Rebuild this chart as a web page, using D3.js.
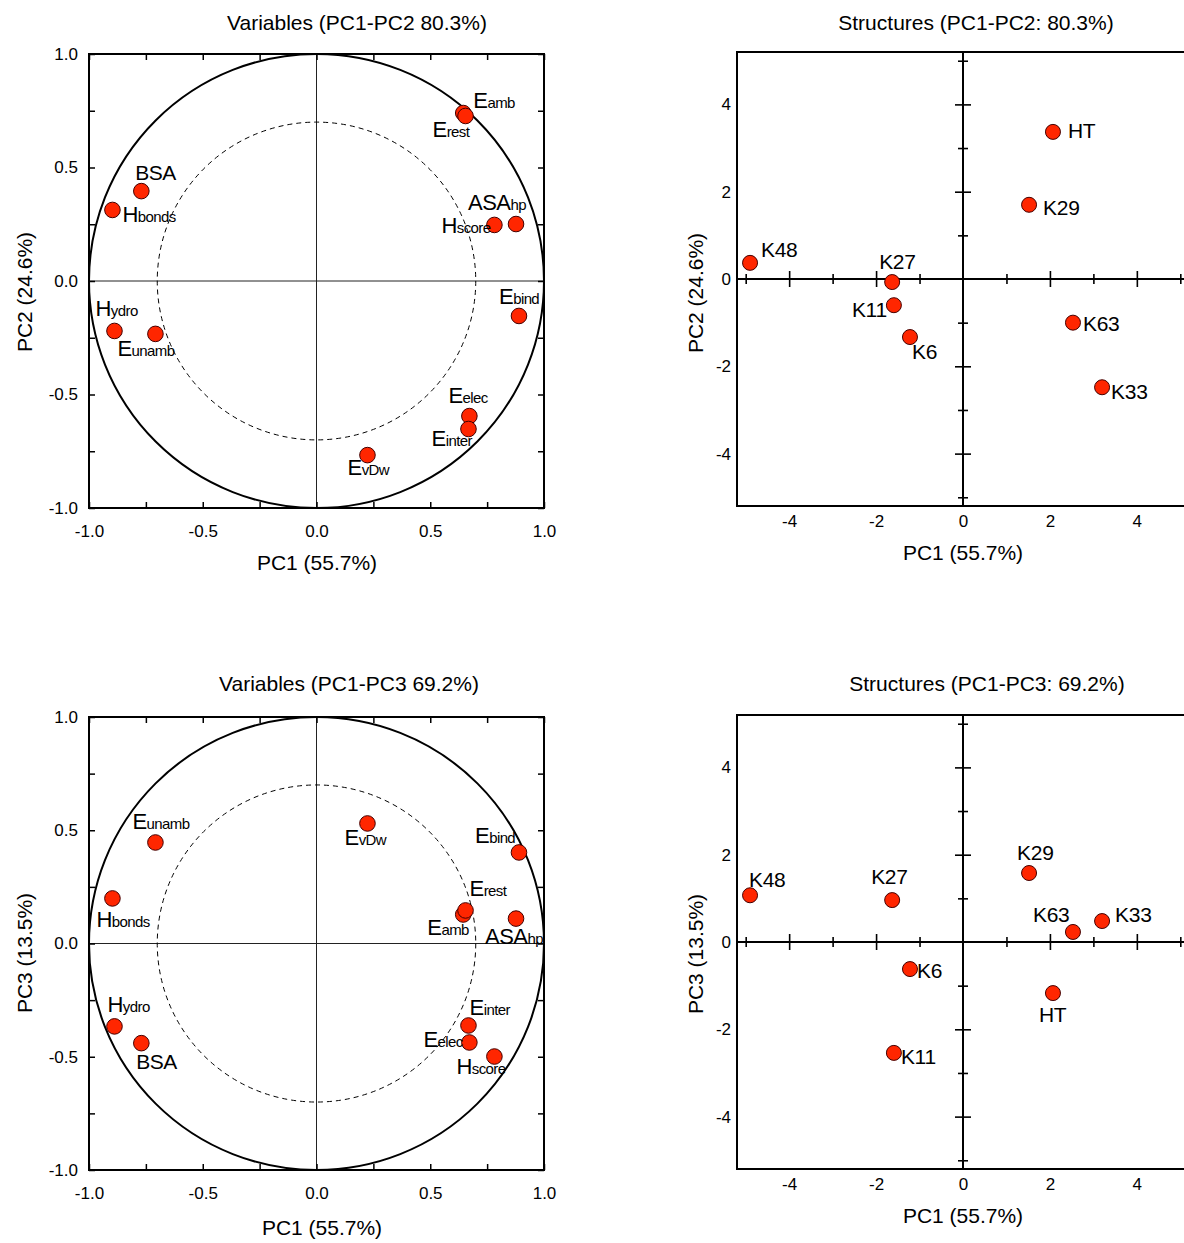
<!DOCTYPE html>
<html lang="en">
<head>
<meta charset="utf-8">
<title>PCA: variables and structures</title>
<script src="https://cdnjs.cloudflare.com/ajax/libs/d3/7.8.5/d3.min.js"></script>
<style>
  body { margin: 0; background: #fff; }
  svg { display: block; font-family: "Liberation Sans", Arial, sans-serif; }
</style>
</head>
<body>
<div id="chart"></div>
<script>
// variable loadings (correlation circle)
var varNames = ["Eamb", "Erest", "BSA", "Hbonds", "Hscore", "ASAhp", "Ebind", "Hydro", "Eunamb", "Eelec", "Einter", "EvDw"];
var varMain  = ["E", "E", "BSA", "H", "H", "ASA", "E", "H", "E", "E", "E", "E"];
var varSub   = ["amb", "rest", "", "bonds", "score", "hp", "bind", "ydro", "unamb", "elec", "inter", "vDw"];
var loadPC1  = [0.645, 0.655, -0.77, -0.897, 0.782, 0.877, 0.89, -0.888, -0.708, 0.672, 0.668, 0.224];
var loadPC2  = [0.74, 0.727, 0.396, 0.313, 0.247, 0.251, -0.154, -0.22, -0.233, -0.595, -0.652, -0.767];
var loadPC3  = [0.128, 0.146, -0.44, 0.199, -0.499, 0.11, 0.402, -0.366, 0.446, -0.437, -0.362, 0.53];

// structure scores
var structNames = ["HT", "K29", "K48", "K27", "K11", "K6", "K63", "K33"];
var scorePC1 = [2.07, 1.52, -4.9, -1.63, -1.59, -1.22, 2.53, 3.2];
var scorePC2 = [3.37, 1.70, 0.37, -0.07, -0.60, -1.33, -1.00, -2.48];
var scorePC3 = [-1.17, 1.58, 1.07, 0.96, -2.54, -0.62, 0.23, 0.48];

var circleTicks = [-1.0, -0.5, 0.0, 0.5, 1.0];
var scoreTicks = [-4, -2, 0, 2, 4];

// label offsets from the point centre (layout only)
var offVarPC2 = {Eamb:[10,-5], Erest:[-33,21], BSA:[-6,-11], Hbonds:[10,12], Hscore:[-53,8], ASAhp:[-48,-14],
  Ebind:[-20,-12], Hydro:[-19,-15], Eunamb:[-38,22], Eelec:[-21,-13], Einter:[-37,17], EvDw:[-20,20]};
var offVarPC3 = {Eamb:[-36,20], Erest:[4,-14], BSA:[-5,26], Hbonds:[-16,29], Hscore:[-38,17], ASAhp:[-31,25],
  Ebind:[-44,-9], Hydro:[-7,-14], Eunamb:[-23,-13], Eelec:[-46,5], Einter:[1,-10], EvDw:[-23,22]};
var offStrPC2 = {HT:[15,6], K29:[14,10], K48:[11,-6], K27:[-13,-13], K11:[-42,12], K6:[2,22], K63:[10,8], K33:[9,12]};
var offStrPC3 = {HT:[-14,29], K29:[-12,-13], K48:[-1,-8], K27:[-21,-16], K11:[7,11], K6:[7,9], K63:[-40,-10], K33:[13,1]};

var width = 1184, height = 1243;
var svg = d3.select("#chart").append("svg").attr("width", width).attr("height", height);

var red = "#ff2600";
var dash = function(d) { return d.toFixed(1); };

function texts(g, t) {
  g.append("text").attr("x", t.x).attr("y", t.y).attr("text-anchor", "middle")
    .attr("font-size", 21).text(t.title);
  g.append("text").attr("x", t.xx).attr("y", t.xy).attr("text-anchor", "middle")
    .attr("font-size", 21).text(t.xtitle);
  g.append("text").attr("transform", "translate(" + t.yx + "," + t.yy + ") rotate(-90)")
    .attr("text-anchor", "middle").attr("font-size", 21).text(t.ytitle);
}

function circlePanel(p) {
  var g = svg.append("g");
  var x = d3.scaleLinear().domain([-1, 1]).range([p.left, p.right]);
  var y = d3.scaleLinear().domain([-1, 1]).range([p.bottom, p.top]);
  var minor = d3.range(-1, 1.001, 0.25);
  var fmt = function(d) { return Math.abs(d * 2 - Math.round(d * 2)) < 1e-6 ? dash(d) : ""; };

  g.append("line").attr("x1", x(0)).attr("x2", x(0)).attr("y1", y(-1)).attr("y2", y(1))
    .attr("stroke", "#222").attr("stroke-width", 1);
  g.append("line").attr("x1", x(-1)).attr("x2", x(1)).attr("y1", y(0)).attr("y2", y(0))
    .attr("stroke", "#222").attr("stroke-width", 1);

  g.append("ellipse").attr("cx", x(0)).attr("cy", y(0))
    .attr("rx", x(0.7) - x(0)).attr("ry", y(0) - y(0.7))
    .attr("fill", "none").attr("stroke", "#000").attr("stroke-width", 1).attr("stroke-dasharray", "5,4");
  g.append("ellipse").attr("cx", x(0)).attr("cy", y(0))
    .attr("rx", x(1) - x(0)).attr("ry", y(0) - y(1))
    .attr("fill", "none").attr("stroke", "#000").attr("stroke-width", 2);

  var ax = [
    [d3.axisBottom(x).tickFormat(fmt).tickPadding(17), "translate(0," + p.bottom + ")"],
    [d3.axisTop(x).tickFormat(""), "translate(0," + p.top + ")"],
    [d3.axisLeft(y).tickFormat(fmt).tickPadding(11), "translate(" + p.left + ",0)"],
    [d3.axisRight(y).tickFormat(""), "translate(" + p.right + ",0)"]
  ];
  ax.forEach(function(a) {
    var ag = g.append("g").attr("transform", a[1])
      .call(a[0].tickValues(minor).tickSizeInner(-6).tickSizeOuter(0));
    ag.select(".domain").remove();
    ag.selectAll(".tick line").attr("stroke-width", 1.5);
    ag.selectAll("text").attr("font-size", 17).attr("font-family", "Liberation Sans, Arial, sans-serif").attr("fill", "#000");
  });
  g.append("rect").attr("x", p.left).attr("y", p.top).attr("width", p.right - p.left).attr("height", p.bottom - p.top)
    .attr("fill", "none").attr("stroke", "#000").attr("stroke-width", 2);

  var rows = varNames.map(function(n, i) { return {name: n, main: varMain[i], sub: varSub[i], a: loadPC1[i], b: p.pcs[i]}; });
  g.selectAll("circle.pt").data(rows).enter().append("circle").attr("class", "pt")
    .attr("cx", function(d) { return x(d.a); }).attr("cy", function(d) { return y(d.b); })
    .attr("r", 7.8).attr("fill", red).attr("stroke", "#400").attr("stroke-width", 1);

  var lab = g.selectAll("text.lab").data(rows).enter().append("text").attr("class", "lab")
    .attr("x", function(d) { return x(d.a) + p.off[d.name][0]; })
    .attr("y", function(d) { return y(d.b) + p.off[d.name][1]; })
    .attr("fill", "#000");
  lab.append("tspan").attr("font-size", function(d) { return d.sub ? 22 : 21; })
    .attr("letter-spacing", -0.5).text(function(d) { return d.main; });
  lab.append("tspan").attr("font-size", 15).attr("letter-spacing", -0.6).text(function(d) { return d.sub; });

  texts(g, p.t);
}

function scorePanel(p) {
  var g = svg.append("g");
  var x = d3.scaleLinear().domain([-5.2, 5.2]).range([p.left, p.right]);
  var y = d3.scaleLinear().domain([-5.2, 5.2]).range([p.bottom, p.top]);
  var ticks = d3.range(-5, 6).filter(function(d) { return d !== 0; });
  var half = function(d) { return d % 2 === 0 ? 8 : 5; };

  g.append("rect").attr("x", p.left).attr("y", p.top).attr("width", p.right - p.left).attr("height", p.bottom - p.top)
    .attr("fill", "none").attr("stroke", "#000").attr("stroke-width", 2);

  var xa = g.append("g").attr("transform", "translate(0," + y(0) + ")")
    .call(d3.axisBottom(x).tickValues(ticks).tickFormat("").tickSizeOuter(0));
  xa.select(".domain").remove();
  xa.selectAll(".tick line").attr("y1", function(d) { return -half(d); }).attr("y2", function(d) { return half(d); })
    .attr("stroke-width", 1.6);
  var ya = g.append("g").attr("transform", "translate(" + x(0) + ",0)")
    .call(d3.axisLeft(y).tickValues(ticks).tickFormat("").tickSizeOuter(0));
  ya.select(".domain").remove();
  ya.selectAll(".tick line").attr("x1", function(d) { return -half(d); }).attr("x2", function(d) { return half(d); })
    .attr("stroke-width", 1.6);

  g.append("line").attr("x1", x(-5.2)).attr("x2", x(5.2)).attr("y1", y(0)).attr("y2", y(0))
    .attr("stroke", "#000").attr("stroke-width", 2);
  g.append("line").attr("x1", x(0)).attr("x2", x(0)).attr("y1", y(-5.2)).attr("y2", y(5.2))
    .attr("stroke", "#000").attr("stroke-width", 2);

  var fmt = function(d) { return String(d); };
  var bx = g.append("g").attr("transform", "translate(0," + p.bottom + ")")
    .call(d3.axisBottom(x).tickValues(scoreTicks).tickFormat(fmt).tickSize(0).tickPadding(9));
  var lx = g.append("g").attr("transform", "translate(" + p.left + ",0)")
    .call(d3.axisLeft(y).tickValues(scoreTicks).tickFormat(fmt).tickSize(0).tickPadding(6));
  [bx, lx].forEach(function(a) {
    a.select(".domain").remove();
    a.selectAll("text").attr("font-size", 17).attr("font-family", "Liberation Sans, Arial, sans-serif").attr("fill", "#000");
  });

  var rows = structNames.map(function(n, i) { return {name: n, a: scorePC1[i], b: p.pcs[i]}; });
  g.selectAll("circle.pt").data(rows).enter().append("circle").attr("class", "pt")
    .attr("cx", function(d) { return x(d.a); }).attr("cy", function(d) { return y(d.b); })
    .attr("r", 7.5).attr("fill", red).attr("stroke", "#400").attr("stroke-width", 1);
  g.selectAll("text.lab").data(rows).enter().append("text").attr("class", "lab")
    .attr("x", function(d) { return x(d.a) + p.off[d.name][0]; })
    .attr("y", function(d) { return y(d.b) + p.off[d.name][1]; })
    .attr("font-size", 21).attr("letter-spacing", -0.3).text(function(d) { return d.name; });

  texts(g, p.t);
}

circlePanel({left: 89, right: 544, top: 54, bottom: 508, pcs: loadPC2, off: offVarPC2,
  t: {title: "Variables (PC1-PC2 80.3%)", x: 357, y: 30, xtitle: "PC1 (55.7%)", xx: 317, xy: 570,
      ytitle: "PC2 (24.6%)", yx: 32, yy: 292}});
circlePanel({left: 89, right: 544, top: 717, bottom: 1170, pcs: loadPC3, off: offVarPC3,
  t: {title: "Variables (PC1-PC3 69.2%)", x: 349, y: 691, xtitle: "PC1 (55.7%)", xx: 322, xy: 1235,
      ytitle: "PC3 (13.5%)", yx: 32, yy: 953}});
scorePanel({left: 737, right: 1189, top: 52, bottom: 506, pcs: scorePC2, off: offStrPC2,
  t: {title: "Structures (PC1-PC2: 80.3%)", x: 976, y: 30, xtitle: "PC1 (55.7%)", xx: 963, xy: 560,
      ytitle: "PC2 (24.6%)", yx: 703, yy: 293}});
scorePanel({left: 737, right: 1189, top: 715, bottom: 1169, pcs: scorePC3, off: offStrPC3,
  t: {title: "Structures (PC1-PC3: 69.2%)", x: 987, y: 691, xtitle: "PC1 (55.7%)", xx: 963, xy: 1223,
      ytitle: "PC3 (13.5%)", yx: 703, yy: 954}});
</script>
</body>
</html>
